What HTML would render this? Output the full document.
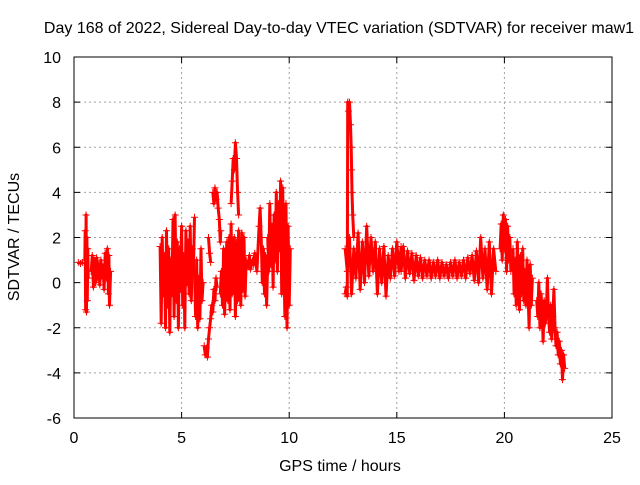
<!DOCTYPE html>
<html><head><meta charset="utf-8">
<style>
html,body{margin:0;padding:0;background:#fff;}
svg text{font-family:"Liberation Sans",sans-serif;font-size:16px;fill:#000;}
</style></head>
<body>
<svg id="chart" width="640" height="480">
  <rect x="0" y="0" width="640" height="480" fill="#fff"/>
  <text x="339" y="33" text-anchor="middle">Day 168 of 2022, Sidereal Day-to-day VTEC variation (SDTVAR) for receiver maw1</text>
  <text x="340" y="471" text-anchor="middle">GPS time / hours</text>
  <text x="0" y="0" transform="translate(19,237) rotate(-90)" text-anchor="middle">SDTVAR / TECUs</text>
  <g id="grid"></g>
  <g id="ticks"></g>
  <g id="series"></g>
  <rect x="74" y="57" width="538" height="361" fill="none" stroke="#000" stroke-width="1"/>
</svg>
<script>
const xTicks=[0,5,10,15,20,25];
const yTicks=[-6,-4,-2,0,2,4,6,8,10];
const hours=[0.2,0.3,0.4,null,
0.5,0.52,0.54,0.56,0.58,0.6,0.62,0.64,0.66,null,
0.8,0.85,0.9,0.95,1.0,1.05,1.1,1.15,1.2,1.25,1.3,1.35,1.4,1.45,1.5,1.55,1.6,1.62,1.65,1.7,null,
4.0,4.05,4.1,4.15,4.2,4.25,4.3,4.35,4.4,4.45,4.5,4.55,4.6,4.65,4.7,4.75,4.8,4.85,4.9,4.95,5.0,5.05,5.1,5.15,5.2,5.25,5.3,5.35,5.4,5.45,5.5,5.55,5.6,null,
5.6,5.65,5.7,5.75,5.8,5.85,5.9,5.95,6.0,null,
6.05,6.1,6.15,6.2,6.25,6.3,6.35,6.4,6.45,6.5,6.55,6.6,6.65,null,
6.25,6.3,6.35,null,
6.45,6.5,6.55,6.6,6.65,6.7,6.75,6.8,6.82,null,
6.8,6.85,6.9,6.95,7.0,7.05,7.1,7.15,7.2,7.25,7.3,7.35,7.4,7.45,7.5,7.55,7.6,7.65,7.7,7.75,7.8,7.85,7.9,7.95,8.0,null,
7.3,7.35,7.4,7.45,7.5,7.55,7.6,7.65,null,
8.0,8.1,8.15,8.2,8.3,8.35,8.4,8.5,8.6,8.65,8.7,8.75,8.8,8.85,8.9,8.95,9.0,null,
9.0,9.05,9.1,9.15,9.2,9.25,9.3,9.35,9.4,9.45,9.5,9.55,9.6,9.65,9.7,9.75,9.8,9.85,9.9,9.95,10.0,10.05,null,
12.6,12.65,12.7,12.72,12.75,12.8,12.85,12.88,12.9,12.92,12.95,13.0,null,
12.6,12.7,12.8,12.9,13.0,13.1,13.2,13.3,13.4,13.5,13.6,13.7,13.8,13.9,14.0,14.1,14.2,14.3,14.4,14.5,14.6,14.7,14.8,14.9,15.0,15.1,15.2,null,
15.2,15.3,15.4,15.5,15.6,15.7,15.8,15.9,16.0,16.1,16.2,16.3,16.4,16.5,16.6,16.7,16.8,16.9,17.0,17.1,17.2,17.3,17.4,17.5,17.6,17.7,17.8,17.9,18.0,18.1,18.2,18.3,18.4,18.5,18.6,18.7,18.8,18.9,19.0,19.1,19.2,19.3,19.4,19.5,19.6,null,
19.8,19.85,19.9,19.95,20.0,20.05,20.1,20.15,20.2,20.25,20.3,null,
20.4,20.45,20.5,20.55,20.6,20.65,20.7,20.75,20.8,20.85,20.9,20.95,21.0,21.05,21.1,21.15,21.2,21.25,21.3,null,
21.5,21.55,21.6,21.65,21.7,21.75,21.8,21.85,21.9,21.95,22.0,22.05,22.1,22.15,22.2,22.25,22.3,22.35,22.4,22.45,22.5,22.55,22.6,22.65,22.7,22.75,22.8,null];
const tecu=[0.9,0.85,0.9,null,
1.0,2.3,-1.2,3.0,-1.3,2.0,-0.8,1.5,0.2,null,
0.5,1.2,-0.2,1.0,0,1.1,0.2,0.8,-0.1,1.0,0.3,0.7,-0.3,1.3,0.2,1.5,-0.5,1.2,-1.0,0.5,null,
1.6,-1.8,2.0,-0.5,1.2,-2.0,2.3,-1.0,1.5,-2.2,1.0,-0.5,2.8,-1.5,3.0,-0.8,1.8,-2.0,1.5,-0.3,2.5,-1.0,1.2,-2.0,2.3,0.0,1.8,-0.5,2.5,-0.8,1.5,0.5,2.9,null,
0.5,-1.5,1.0,-2.0,0.2,-1.6,1.5,-0.8,0,null,
-2.8,-3.2,-2.9,-3.3,-2.5,-2.0,-1.6,-1.0,-1.3,-0.3,-0.8,0.2,-0.2,null,
2.0,1.3,0.9,null,
4.0,3.5,4.2,3.7,4.0,3.3,2.8,1.8,2.3,null,
-0.5,0.5,-1.0,1.5,-1.4,0.5,1.8,-0.8,2.0,-1.2,2.6,-0.5,1.0,2.0,-1.5,1.8,-0.8,2.3,0.5,-1.0,2.2,-0.3,2.0,-0.6,1.0,null,
3.5,4.5,5.5,5.0,6.2,5.5,4.0,3.0,null,
1.0,0.7,1.2,0.6,1.0,0.8,1.3,0.5,2.5,3.3,2.0,0,1.5,-0.5,1.2,-1.0,1.0,null,
2.0,0.5,3.5,0.8,2.5,-0.2,3.0,1.0,4.0,0.5,3.5,1.5,4.5,-0.5,4.2,1.0,-1.5,3.5,-2.0,2.5,-1.0,1.5,null,
-0.5,-0.2,-0.6,8.0,7.6,8.0,7.0,6.0,5.0,4.0,3.0,2.0,null,
1.5,0.5,2.0,-0.5,1.5,0.2,2.2,-0.3,1.8,0,2.5,0.3,2.0,0.5,1.8,-0.5,1.5,0,1.6,-0.6,1.2,0.2,1.5,0.3,1.8,0.5,1.6,null,
0.5,1.6,0.2,1.4,0.4,1.3,0.1,1.2,0.3,1.1,0.2,1.0,0.3,1.0,0.2,0.9,0.3,1.0,0.2,0.9,0.3,0.8,0.2,0.9,0.3,1.0,0.2,0.9,0.3,1.0,0.2,1.1,0.4,1.2,0.1,1.4,0,2.0,0.2,1.5,-0.3,1.8,-0.5,1.5,0.5,null,
1.5,2.6,1.0,3.0,1.5,2.8,0.5,2.5,1.0,2.0,0.5,null,
1.5,-0.5,1.0,-1.0,1.8,0,-1.2,1.2,-0.5,1.5,-0.8,0.5,-1.0,1.0,-0.5,-2.0,0.8,-1.0,0.2,null,
-0.8,-1.5,0,-2.0,-0.5,-1.2,-2.6,-0.8,-1.8,-1.2,0.2,-1.5,-2.2,-1.0,-2.5,-1.5,-0.3,-2.0,-2.8,-2.2,-3.2,-2.6,-3.6,-3.0,-4.3,-3.2,-3.8,null];

const X0=74,X1=612,Y0=418,Y1=57;
function xs(t){return X0+(t-0)/(25-0)*(X1-X0);}
function ys(v){return Y0-(v-(-6))/(10-(-6))*(Y0-Y1);}
const NS='http://www.w3.org/2000/svg';
const grid=document.getElementById('grid'),ticks=document.getElementById('ticks'),series=document.getElementById('series');
function mk(tag,attrs,parent){const e=document.createElementNS(NS,tag);for(const k in attrs)e.setAttribute(k,attrs[k]);parent.appendChild(e);return e;}
xTicks.forEach(t=>{
  const x=xs(t);
  if(t>0&&t<25){const g=mk('line',{x1:x,x2:x,y1:Y1,y2:Y0,stroke:'#a0a0a0','stroke-dasharray':'2,3'},grid);
  
  }
  mk('line',{x1:x,x2:x,y1:Y0,y2:Y0-6,stroke:'#000'},ticks);
  mk('line',{x1:x,x2:x,y1:Y1,y2:Y1+6,stroke:'#000'},ticks);
  const l=mk('text',{x:x,y:443,'text-anchor':'middle'},ticks);l.textContent=t;
  
  
});
yTicks.forEach(v=>{
  const y=ys(v);
  if(v>-6&&v<10){const g=mk('line',{x1:X0,x2:X1,y1:y,y2:y,stroke:'#a0a0a0','stroke-dasharray':'2,3'},grid);
  
  }
  mk('line',{x1:X0,x2:X0+6,y1:y,y2:y,stroke:'#000'},ticks);
  mk('line',{x1:X1,x2:X1-6,y1:y,y2:y,stroke:'#000'},ticks);
  const l=mk('text',{x:61,y:y+6,'text-anchor':'end'},ticks);l.textContent=v;
  
  
});
let seg=[];
function flush(){
  if(seg.length>1){const p=mk('polyline',{points:seg.join(' '),fill:'none',stroke:'#ff0000','stroke-width':3,'stroke-linejoin':'round'},series);
  
  }
  seg=[];
}
for(let i=0;i<hours.length;i++){
  if(hours[i]===null||tecu[i]===null){flush();continue;}
  const x=xs(hours[i]),y=ys(tecu[i]);
  seg.push(x.toFixed(1)+','+y.toFixed(1));
  const m=mk('path',{d:`M${x-3.5},${y}H${x+3.5}M${x},${y-3.5}V${y+3.5}`,stroke:'#ff0000','stroke-width':1},series);
  
  
}
flush();
</script>
</body></html>
